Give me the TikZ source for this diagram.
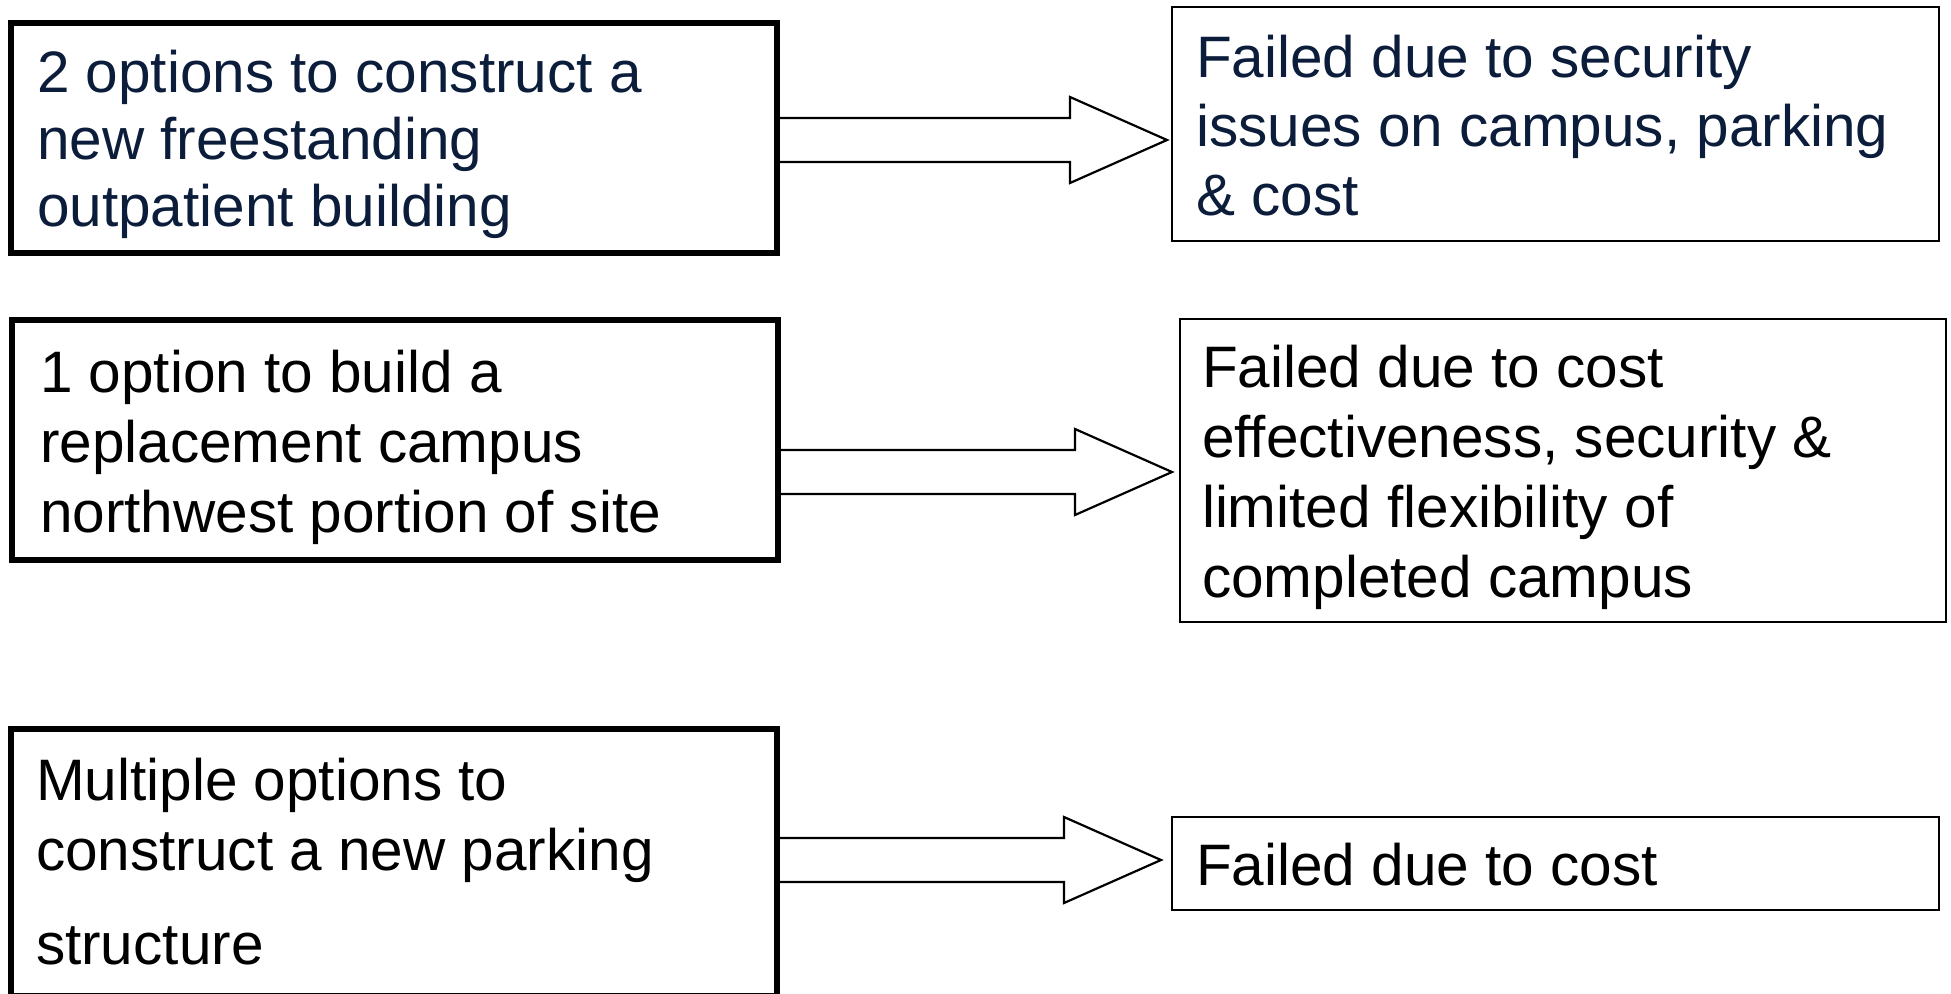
\documentclass[tikz,border=0pt]{standalone}
\usepackage{fontspec}
\setmainfont{Liberation Sans}
\usetikzlibrary{calc}
\definecolor{navy}{RGB}{11,29,58}
\tikzset{
  leftbox/.style={draw=black, line width=5.5pt, inner sep=0pt, outer sep=0pt},
  rightbox/.style={draw=black, line width=2.5pt, inner sep=0pt, outer sep=0pt},
  boxtext/.style={anchor=base west, inner sep=0pt, outer sep=0pt},
  blockarrow/.style={draw=black, line width=2.2pt, line join=miter}
}
\newcommand{\bigtext}[1]{\fontsize{58.5}{#1}\selectfont}
\begin{document}
\begin{tikzpicture}[x=1pt,y=-1pt]
\useasboundingbox (0,0) rectangle (1951,993);
% boxes
\node[leftbox, minimum width=766pt, minimum height=230pt] (b1) at (394,138) {};
\node[rightbox, minimum width=767pt, minimum height=234pt] (b2) at (1555.5,124) {};
\node[leftbox, minimum width=766pt, minimum height=240pt] (b3) at (395,440) {};
\node[rightbox, minimum width=766pt, minimum height=303pt] (b4) at (1563,470.5) {};
\node[leftbox, minimum width=766pt, minimum height=267pt] (b5) at (394,862.5) {};
\node[rightbox, minimum width=767pt, minimum height=93pt] (b6) at (1555.5,863.5) {};
% texts
\node[boxtext, text=navy, font=\bigtext{67}] (t1) at (37,92)
  {\begin{tabular}[t]{@{}l@{}}2 options to construct a\\new freestanding\\outpatient building\end{tabular}};
\node[boxtext, text=navy, font=\bigtext{69}] (t2) at (1196,77.5)
  {\begin{tabular}[t]{@{}l@{}}Failed due to security\\issues on campus, parking\\\& cost\end{tabular}};
\node[boxtext, font=\bigtext{70}] (t3) at (40,392.5)
  {\begin{tabular}[t]{@{}l@{}}1 option to build a\\replacement campus\\northwest portion of site\end{tabular}};
\node[boxtext, font=\bigtext{70}] (t4) at (1202,387.5)
  {\begin{tabular}[t]{@{}l@{}}Failed due to cost\\effectiveness, security \&\\limited flexibility of\\completed campus\end{tabular}};
\node[boxtext, font=\bigtext{70}] (t5) at (36,800.5)
  {\begin{tabular}[t]{@{}l@{}}Multiple options to\\construct a new parking\\[24pt]structure\end{tabular}};
\node[boxtext, font=\bigtext{70}] (t6) at (1196,885.5) {Failed due to cost};
% arrow anchors
\coordinate (a1s) at ($(b1.east)+(0,2)$);
\coordinate (a1t) at ($(b2.west)+(-5,0)$);
\coordinate (a2s) at ($(b3.east)+(0,32)$);
\coordinate (a2t) at ($(b4.west)+(-8,0)$);
\coordinate (a3s) at ($(b5.east)+(0,-2.5)$);
\coordinate (a3t) at ($(b6.west)+(-11,0)$);
% block arrows
\foreach \s/\t in {a1s/a1t, a2s/a2t, a3s/a3t}{
  \draw[blockarrow] let \p1=(\s), \p2=(\t) in
    (\x1,\y1-22) -- (\x2-97,\y1-22) -- (\x2-97,\y1-43) -- (\x2,\y1)
    -- (\x2-97,\y1+43) -- (\x2-97,\y1+22) -- (\x1,\y1+22);
}
\end{tikzpicture}
\end{document}
